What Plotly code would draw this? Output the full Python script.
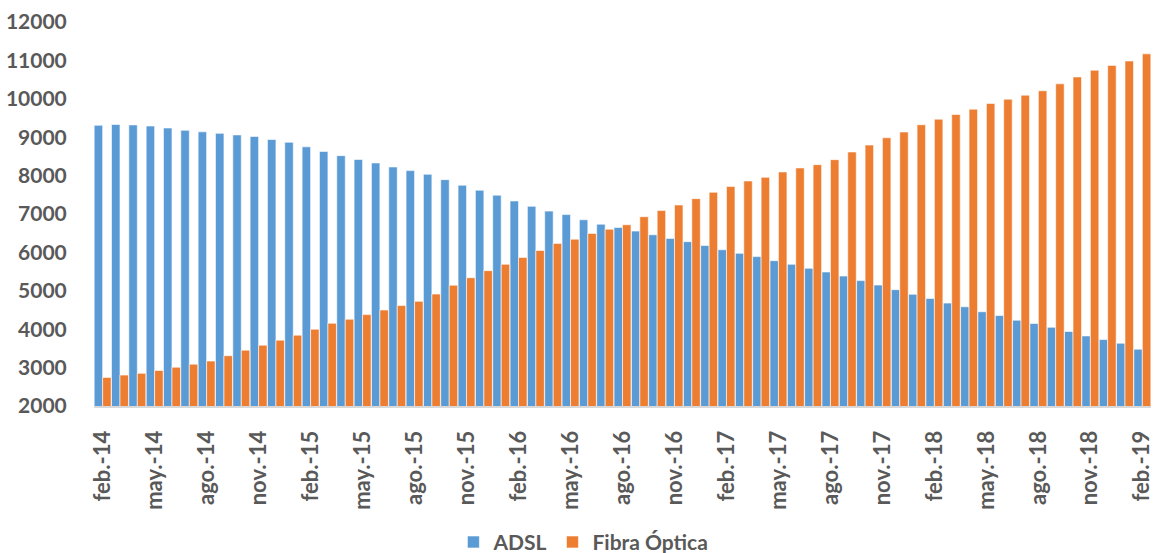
import plotly.graph_objects as go

months_es = ["ene.", "feb.", "mar.", "abr.", "may.", "jun.", "jul.", "ago.", "sep.", "oct.", "nov.", "dic."]
categories = []
for k in range(61):
    m = (1 + k) % 12
    yr = 14 + (1 + k) // 12
    categories.append(f"{months_es[m]}-{yr}")

adsl = [9310, 9330, 9320, 9290, 9240, 9180, 9140, 9100, 9060, 9020,
        8940, 8870, 8750, 8630, 8520, 8420, 8330, 8225, 8130, 8035,
        7895, 7750, 7620, 7490, 7340, 7200, 7075, 6985, 6850, 6735,
        6650, 6555, 6460, 6365, 6280, 6180, 6070, 5975, 5890, 5785,
        5690, 5585, 5490, 5385, 5265, 5150, 5030, 4910, 4800, 4680,
        4585, 4455, 4355, 4235, 4150, 4050, 3940, 3825, 3730, 3635,
        3480]
fibra = [2745, 2805, 2850, 2925, 3010, 3090, 3170, 3310, 3455, 3585,
         3715, 3845, 4000, 4155, 4260, 4380, 4500, 4615, 4725, 4915,
         5145, 5340, 5525, 5690, 5870, 6050, 6235, 6345, 6495, 6605,
         6720, 6930, 7090, 7235, 7400, 7565, 7715, 7860, 7955, 8095,
         8200, 8285, 8415, 8615, 8795, 8985, 9135, 9325, 9470, 9590,
         9730, 9880, 9990, 10095, 10210, 10390, 10570, 10745, 10870, 10985,
         11170]
tick_labels = categories[::3]
y_ticks = list(range(2000, 12001, 1000))
y_tick_text = [str(v) for v in y_ticks]

FONT = "Lato"
GRAY = "#595959"

fig = go.Figure()
fig.add_trace(go.Bar(x=categories, y=adsl, name="ADSL",
                     marker=dict(color="#5B9BD5", line=dict(color="white", width=0.6))))
fig.add_trace(go.Bar(x=categories, y=fibra, name="Fibra Óptica",
                     marker=dict(color="#ED7D31", line=dict(color="white", width=0.6))))

fig.update_layout(
    width=1153, height=553,
    margin=dict(l=94, r=2, t=22, b=147, autoexpand=False),
    paper_bgcolor="white", plot_bgcolor="white",
    barmode="group", bargap=0.02, bargroupgap=0,
    font=dict(family=FONT, color=GRAY),
    legend=dict(orientation="h", x=0.463, xanchor="center", y=-0.355, yanchor="middle",
                font=dict(family=FONT, size=21, color=GRAY, weight="bold"),
                itemwidth=30, traceorder="normal"),
    showlegend=True,
)
fig.update_xaxes(
    type="category", tickmode="array", tickvals=tick_labels, ticktext=tick_labels,
    tickangle=-90, tickfont=dict(family=FONT, size=22, color=GRAY, weight="bold"),
    showline=True, linecolor="#D9D9D9", linewidth=2,
    ticks="outside", ticklen=14, tickcolor="rgba(0,0,0,0)",
    showgrid=False, automargin=False,
)
fig.update_yaxes(
    range=[2000, 12000], tickmode="array", tickvals=y_ticks, ticktext=y_tick_text,
    tickfont=dict(family=FONT, size=21, color=GRAY, weight="bold"),
    showgrid=False, zeroline=False, showline=False,
    ticks="outside", ticklen=22, tickcolor="rgba(0,0,0,0)", automargin=False,
)

fig.write_html("out.html", config={"displayModeBar": False},
               post_script="document.body.style.margin='0px';document.body.style.overflow='hidden';")
